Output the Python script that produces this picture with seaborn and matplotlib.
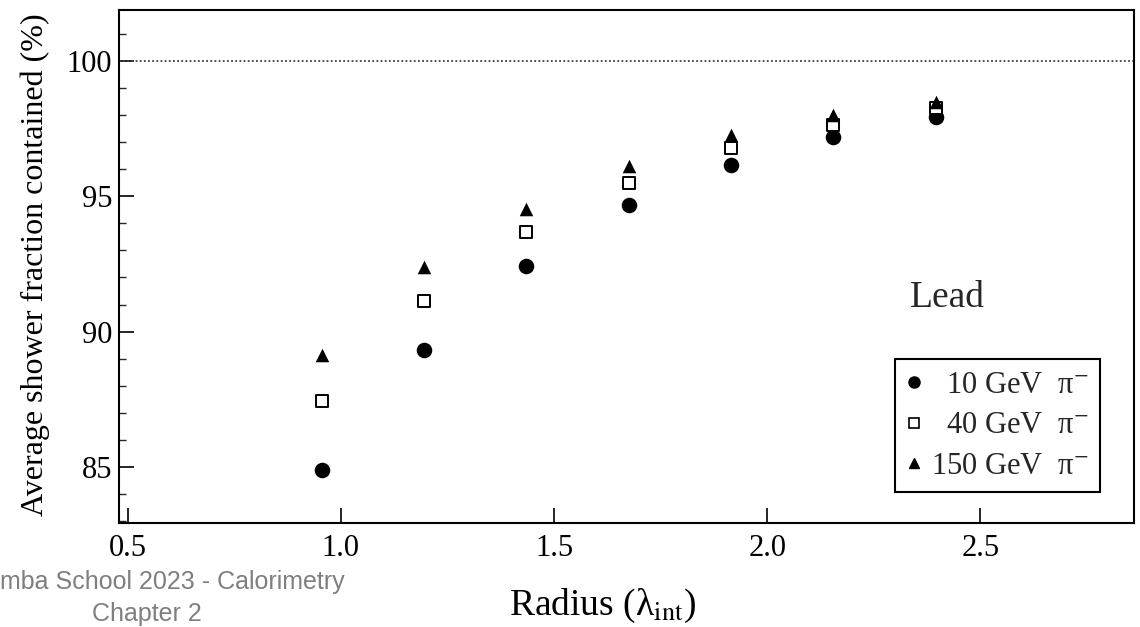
import matplotlib
matplotlib.use("Agg")
import matplotlib.pyplot as plt
from matplotlib.lines import Line2D
from matplotlib.ticker import MultipleLocator
import seaborn as sns
import pandas as pd

# ---- data ----
radius = [0.955, 1.195, 1.435, 1.675, 1.915, 2.155, 2.395]
pi10 = [84.9, 89.33, 92.42, 94.67, 96.15, 97.19, 97.93]
pi40 = [87.42, 91.12, 93.68, 95.5, 96.78, 97.63, 98.26]
pi150 = [89.15, 92.37, 94.54, 96.12, 97.26, 98.0, 98.48]
series_names = ["10 GeV", "40 GeV", "150 GeV"]
legend_labels = ["  10 GeV  π$^{-}$", "  40 GeV  π$^{-}$", "150 GeV  π$^{-}$"]
x_ticks = [0.5, 1.0, 1.5, 2.0, 2.5]
y_ticks = [85, 90, 95, 100]

sns.set_theme(style="ticks")
plt.rcParams["font.family"] = ["Liberation Serif", "DejaVu Serif"]
plt.rcParams["mathtext.fontset"] = "stix"

df = pd.DataFrame({
    "radius": radius * 3,
    "fraction": pi10 + pi40 + pi150,
    "beam": [series_names[0]] * 7 + [series_names[1]] * 7 + [series_names[2]] * 7,
})

fig = plt.figure(figsize=(11.4, 6.27), dpi=100)
ax = fig.add_axes([0.1044, 0.1659, 0.8903, 0.8181])

styles = {
    "10 GeV": dict(marker="o", s=125, face="black", lw=0),
    "40 GeV": dict(marker="s", s=72, face="white", lw=1.4),
    "150 GeV": dict(marker="^", s=95, face="black", lw=0),
}
for name in series_names:
    st = styles[name]
    sub = df[df["beam"] == name]
    sns.scatterplot(data=sub, x="radius", y="fraction", marker=st["marker"], s=st["s"],
                    color="black", linewidth=st["lw"], ax=ax, legend=False, zorder=3)
    coll = ax.collections[-1]
    coll.set_facecolor(st["face"])
    coll.set_edgecolor("black")

ax.axhline(100, color="0.25", ls=(0, (1, 1.3)), lw=1.3, zorder=1)

ax.set_xlim(0.48, 2.86)
ax.set_ylim(82.93, 101.88)
ax.set_xticks(x_ticks)
ax.set_xticklabels([f"{t:.1f}" for t in x_ticks])
ax.set_yticks(y_ticks)
ax.yaxis.set_minor_locator(MultipleLocator(1))
ax.tick_params(axis="both", which="major", direction="in", length=11, width=1.2,
               labelsize=22, colors="black", pad=8)
ax.tick_params(axis="y", which="major", pad=5)
ax.tick_params(axis="y", which="minor", direction="in", length=5, width=1.0)
for sp in ax.spines.values():
    sp.set_visible(True)
    sp.set_color("black")
    sp.set_linewidth(1.5)

ax.set_ylabel("Average shower fraction contained (%)", fontsize=23, color="black")
ax.yaxis.set_label_coords(-0.068, 0.503)
ax.set_xlabel("Radius (λ$_{\\mathrm{int}}$)", fontsize=27, color="black")
ax.xaxis.set_label_coords(0.476, -0.125)

ax.text(0.779, 0.4386, "Lead", transform=ax.transAxes, fontsize=27, va="center", ha="left")

handles = [
    Line2D([], [], ls="none", marker="o", markersize=8, markerfacecolor="black", markeredgecolor="black"),
    Line2D([], [], ls="none", marker="s", markersize=7, markerfacecolor="white", markeredgecolor="black", markeredgewidth=1.2),
    Line2D([], [], ls="none", marker="^", markersize=7, markerfacecolor="black", markeredgecolor="black"),
]
leg = ax.legend(handles, legend_labels, loc="upper left", bbox_to_anchor=(0.7645, 0.3197),
                borderaxespad=0, frameon=True, fancybox=False, framealpha=1, edgecolor="black",
                fontsize=22, handlelength=0.5, handletextpad=0.3, borderpad=0.38, labelspacing=0.38)
leg.get_frame().set_linewidth(1.5)

fig.text(0.0, 1 - 582 / 627, "mba School 2023 - Calorimetry", ha="left", va="center",
         fontsize=18, color="#7f7f7f", family="Liberation Sans")
fig.text(147 / 1140, 1 - 626 / 627, "Chapter 2", ha="center", va="bottom",
         fontsize=18, color="#7f7f7f", family="Liberation Sans")

fig.savefig("out.png", dpi=100, facecolor="white")
